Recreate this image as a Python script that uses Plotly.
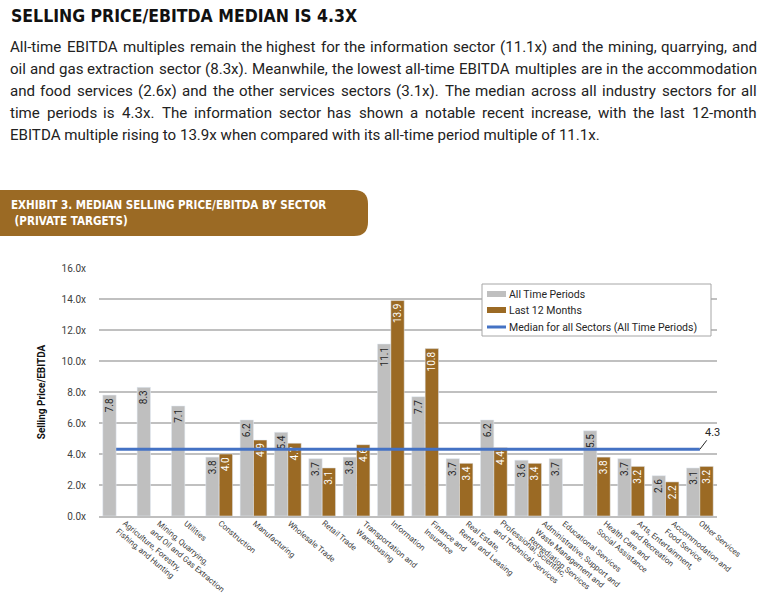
import math
import plotly.graph_objects as go

# ---------------- data ----------------
sectors = [
    "Agriculture, Forestry,<br>Fishing, and Hunting",
    "Mining, Quarrying,<br>and Oil and Gas Extraction",
    "Utilities",
    "Construction",
    "Manufacturing",
    "Wholesale Trade",
    "Retail Trade",
    "Transportation and<br>Warehousing",
    "Information",
    "Finance and<br>Insurance",
    "Real Estate,<br>Rental and Leasing",
    "Professional, Scientific,<br>and Technical Services",
    "Administrative, Support and<br>Waste Management and<br>Remediation Services",
    "Educational Services",
    "Health Care and<br>Social Assistance",
    "Arts, Entertainment,<br>and Recreation",
    "Accommodation and<br>Food Service",
    "Other Services",
]
all_time = [7.8, 8.3, 7.1, 3.8, 6.2, 5.4, 3.7, 3.8, 11.1, 7.7, 3.7, 6.2, 3.6, 3.7, 5.5, 3.7, 2.6, 3.1]
last_12 = [None, None, None, 4.0, 4.9, 4.7, 3.1, 4.6, 13.9, 10.8, 3.4, 4.4, 3.4, None, 3.8, 3.2, 2.2, 3.2]
median_all = 4.3
y_tick_vals = [0, 2, 4, 6, 8, 10, 12, 14, 16]
y_tick_text = ["0.0x", "2.0x", "4.0x", "6.0x", "8.0x", "10.0x", "12.0x", "14.0x", "16.0x"]

series_names = ["All Time Periods", "Last 12 Months", "Median for all Sectors (All Time Periods)"]

title_text = "SELLING PRICE/EBITDA MEDIAN IS 4.3X"
body_lines = [
    "All-time EBITDA multiples remain the highest for the information sector (11.1x) and the mining, quarrying, and",
    "oil and gas extraction sector (8.3x). Meanwhile, the lowest all-time EBITDA multiples are in the accommodation",
    "and food services (2.6x) and the other services sectors (3.1x). The median across all industry sectors for all",
    "time periods is 4.3x. The information sector has shown a notable recent increase, with the last 12-month",
    "EBITDA multiple rising to 13.9x when compared with its all-time period multiple of 11.1x.",
]
banner_lines = ["EXHIBIT 3. MEDIAN SELLING PRICE/EBITDA BY SECTOR", " (PRIVATE TARGETS)"]

# ---------------- styles ----------------
GRAY = "#BFBFBF"
BROWN = "#9B6A24"
BLUE = "#4472C4"
TXT = "#404040"
W, H = 768, 595
L, R, T, B = 99, 717, 268, 516
NARROW = "Liberation Sans Narrow, DejaVu Sans Condensed, Roboto, sans-serif"
BODY = "Roboto, Noto Sans, sans-serif"
XLAB_SIZE = 8.0
XLAB_ANGLE = 40
BODY_SIZE = 15.1
TEXT_L, TEXT_R = 10, 757

# approximate Roboto Regular advance widths (units per 2048 em) for justification
ROBOTO_W = {
    " ": 507, "(": 684, ")": 696, ",": 393, "-": 552, ".": 527, "/": 824,
    "A": 1336, "B": 1275, "C": 1333, "D": 1343, "E": 1164, "F": 1132, "G": 1395, "H": 1460,
    "I": 557, "M": 1788, "O": 1408, "P": 1292, "S": 1217, "T": 1222,
    "a": 1088, "b": 1122, "c": 1045, "d": 1126, "e": 1058, "f": 693, "g": 1120, "h": 1100,
    "i": 485, "j": 477, "k": 1012, "l": 485, "m": 1751, "n": 1103, "o": 1140, "p": 1122,
    "q": 1130, "r": 677, "s": 1031, "t": 654, "u": 1100, "v": 968, "w": 1502, "x": 991,
    "y": 946, "z": 991,
}


def text_w(s, size):
    return 1.025 * sum(ROBOTO_W.get(ch, 1150) for ch in s) / 2048 * size


def px(x):
    return (x - L) / (R - L)


def py(y):
    return (B - y) / (B - T)


fig = go.Figure()
fig.add_trace(go.Bar(
    x=sectors, y=all_time, name=series_names[0], marker_color=GRAY,
    text=[f"{v:.1f}" for v in all_time], textposition="inside", insidetextanchor="end",
    textangle=-90, constraintext="none", textfont=dict(family=BODY, size=10, color="#262626"),
    cliponaxis=False,
))
fig.add_trace(go.Bar(
    x=sectors, y=last_12, name=series_names[1], marker_color=BROWN,
    text=[f"{v:.1f}" if v is not None else "" for v in last_12], textposition="inside",
    insidetextanchor="end", textangle=-90, constraintext="none",
    textfont=dict(family=BODY, size=10, color="white"), cliponaxis=False,
))
fig.add_trace(go.Scatter(
    x=sectors, y=[median_all] * len(sectors), name=series_names[2], mode="lines",
    line=dict(color=BLUE, width=3), cliponaxis=False,
))

annotations = []
# median label with leader line
annotations.append(dict(
    x=sectors[-1], y=median_all, xref="x", yref="y", text=f"{median_all:.1f}",
    showarrow=True, arrowhead=0, arrowwidth=1, arrowcolor="#262626", ax=13, ay=-17,
    font=dict(family=BODY, size=11, color="#262626"), standoff=0,
))

# rotated category labels; multi-line blocks are roughly centred on their tick
sin_a = math.sin(math.radians(XLAB_ANGLE))
for s in sectors:
    n = s.count("<br>") + 1
    h = n * XLAB_SIZE * 1.3
    annotations.append(dict(
        x=s, y=py(519), xref="x", yref="paper", xanchor="left", yanchor="top",
        xshift=4.5 + (n - 1) * 7 - h * sin_a, text=s, textangle=XLAB_ANGLE, align="left",
        showarrow=False, borderpad=0, borderwidth=0,
        font=dict(family=BODY, size=XLAB_SIZE, color=TXT),
    ))

# title
annotations.append(dict(
    x=px(9), y=py(16), xref="paper", yref="paper", xanchor="left", yanchor="middle",
    text=f"<b>{title_text}</b>", showarrow=False, font=dict(family=NARROW, size=17.5, color="#111111"),
))

# body paragraph, justified word by word (last line left aligned)
for i, line in enumerate(body_lines):
    yy = py(47 + 22 * i)
    if i == len(body_lines) - 1:
        annotations.append(dict(
            x=px(TEXT_L), y=yy, xref="paper", yref="paper", xanchor="left", yanchor="middle",
            text=line, showarrow=False, borderpad=0, borderwidth=0,
            font=dict(family=BODY, size=BODY_SIZE, color="#222222"),
        ))
        continue
    words = line.split(" ")
    widths = [text_w(wd, BODY_SIZE) for wd in words]
    gap = (TEXT_R - TEXT_L - sum(widths)) / (len(words) - 1)
    xpos = TEXT_L
    for k, wd in enumerate(words):
        if k == 0:
            ann_x, anchor = px(TEXT_L), "left"
        elif k == len(words) - 1:
            ann_x, anchor = px(TEXT_R), "right"
        else:
            ann_x, anchor = px(xpos + widths[k] / 2), "center"
        annotations.append(dict(
            x=ann_x, y=yy, xref="paper", yref="paper", xanchor=anchor, yanchor="middle",
            text=wd, showarrow=False, borderpad=0, borderwidth=0,
            font=dict(family=BODY, size=BODY_SIZE, color="#222222"),
        ))
        xpos += widths[k] + gap

# banner text
for i, line in enumerate(banner_lines):
    annotations.append(dict(
        x=px(9), y=py(205 + 16 * i), xref="paper", yref="paper", xanchor="left", yanchor="middle",
        text=f"<b>{line}</b>", showarrow=False, font=dict(family=NARROW, size=11.5, color="white"),
    ))

# custom legend
leg_items_y = [294, 310, 327]
for i, nm in enumerate(series_names):
    annotations.append(dict(
        x=px(507), y=py(leg_items_y[i]), xref="paper", yref="paper", xanchor="left", yanchor="middle",
        text=nm, showarrow=False, font=dict(family=BODY, size=10.5, color="#262626"),
    ))

shapes = []
r = 14
x1b, y0b, y1b = 368, 190, 236
path = (f"M {px(0)},{py(y0b)} L {px(x1b - r)},{py(y0b)} Q {px(x1b)},{py(y0b)} {px(x1b)},{py(y0b + r)} "
        f"L {px(x1b)},{py(y1b - r)} Q {px(x1b)},{py(y1b)} {px(x1b - r)},{py(y1b)} L {px(0)},{py(y1b)} Z")
shapes.append(dict(type="path", path=path, xref="paper", yref="paper", fillcolor=BROWN, line=dict(width=0)))
# legend box
shapes.append(dict(type="rect", xref="paper", yref="paper", x0=px(482), x1=px(711), y0=py(284), y1=py(336),
                   fillcolor="white", line=dict(color="#A6A6A6", width=1), layer="above"))
shapes.append(dict(type="rect", xref="paper", yref="paper", x0=px(487), x1=px(506), y0=py(291), y1=py(297),
                   fillcolor=GRAY, line=dict(width=0), layer="above"))
shapes.append(dict(type="rect", xref="paper", yref="paper", x0=px(487), x1=px(506), y0=py(307), y1=py(313),
                   fillcolor=BROWN, line=dict(width=0), layer="above"))
shapes.append(dict(type="line", xref="paper", yref="paper", x0=px(487), x1=px(506), y0=py(327), y1=py(327),
                   line=dict(color=BLUE, width=3), layer="above"))

fig.update_layout(
    width=W, height=H,
    margin=dict(l=L, r=W - R, t=T, b=H - B, pad=0, autoexpand=False),
    paper_bgcolor="white", plot_bgcolor="white",
    showlegend=False,
    barmode="group", bargap=0.22, bargroupgap=0,
    font=dict(family=BODY, color=TXT),
    annotations=annotations, shapes=shapes,
    xaxis=dict(
        type="category", showticklabels=False, range=[-0.5, len(sectors) - 0.5], autorange=False,
        showline=True, linecolor="#BFBFBF", linewidth=2, ticks="", showgrid=False, automargin=False,
    ),
    yaxis=dict(
        range=[0, 16], autorange=False, tickvals=y_tick_vals, ticktext=y_tick_text,
        tickfont=dict(family=BODY, size=10, color=TXT), automargin=False,
        showgrid=True, gridcolor="#C0C0C0", gridwidth=1.5, zeroline=False, showline=False,
        ticklabelstandoff=12,
        title=dict(text="<b>Selling Price/EBITDA</b>", font=dict(family=BODY, size=10, color="#111111"), standoff=14),
    ),
)

fig.write_html("out.html", config={"displayModeBar": False},
               post_script="document.body.style.margin='0px';")
